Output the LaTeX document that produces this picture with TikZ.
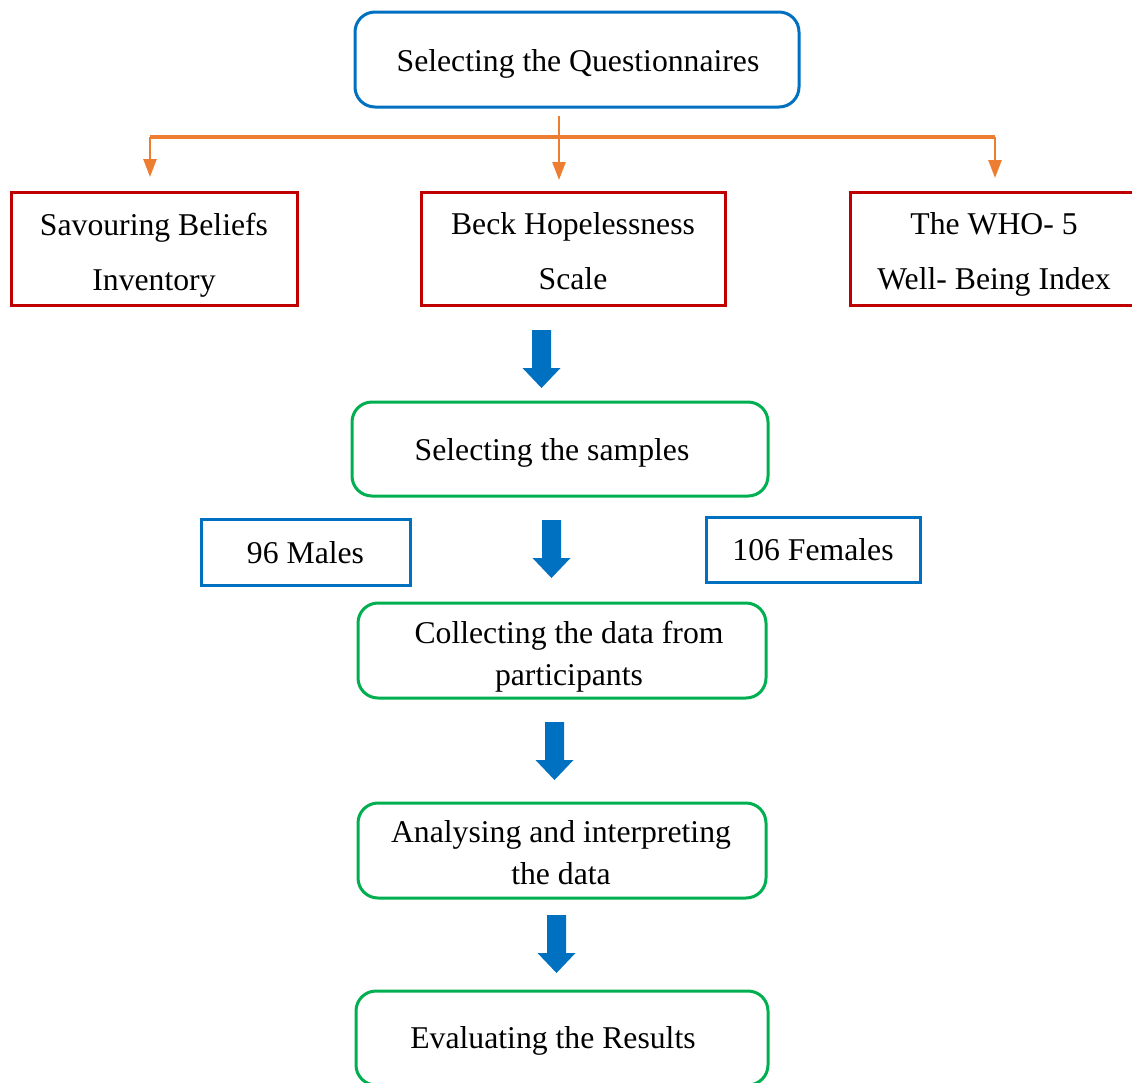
\documentclass[tikz,border=0pt]{standalone}
\usepackage{fontspec}
\setmainfont{Liberation Serif}
\usetikzlibrary{arrows.meta,calc}
\definecolor{tblue}{HTML}{0070C0}
\definecolor{tred}{HTML}{C00000}
\definecolor{tgreen}{HTML}{00B050}
\definecolor{torange}{HTML}{ED7D31}
\tikzset{
  txt/.style={font=\fontsize{31.7}{42}\selectfont, align=center, inner sep=0pt},
  roundbox/.style={draw, line width=3pt, rounded corners=20pt, inner sep=0pt},
  bluebox/.style={roundbox, draw=tblue},
  greenbox/.style={roundbox, draw=tgreen},
  redbox/.style={draw=tred, line width=3pt, inner sep=0pt},
  smallbox/.style={draw=tblue, line width=3pt, inner sep=0pt},
  orangeline/.style={draw=torange, line width=4pt},
  orangearrow/.style={draw=torange, line width=2.5pt, -{Triangle[width=13pt,length=18pt]}},
}
\newcommand{\blockarrowat}[2]{%
  \fill[tblue] (#1-9.5,#2) -- (#1+9.5,#2) -- (#1+9.5,#2+38) -- (#1+19,#2+38)
     -- (#1,#2+58) -- (#1-19,#2+38) -- (#1-9.5,#2+38) -- cycle;}
\begin{document}
\begin{tikzpicture}[x=1pt,y=-1pt]
\useasboundingbox (0,0) rectangle (1132,1082);
\clip (0,0) rectangle (1132,1082);
\fill[white] (0,0) rectangle (1132,1082);

% top box
\node[bluebox, minimum width=444pt, minimum height=95pt] (top) at (577,59.5) {};
\node[txt] (toptxt) at (578,64) {Selecting the Questionnaires};

% red boxes
\node[redbox, minimum width=286pt, minimum height=113pt] (sbi) at (154,248.5) {};
\node[txt, font=\fontsize{31.7}{55}\selectfont] at (154,255) {Savouring Beliefs\\Inventory};
\node[redbox, minimum width=304pt, minimum height=113pt] (bhs) at (573,248.5) {};
\node[txt, font=\fontsize{31.7}{55}\selectfont] at (573,251.5) {Beck Hopelessness\\Scale};
\node[redbox, minimum width=290pt, minimum height=113pt] (who) at (995,248.5) {};
\node[txt, font=\fontsize{31.7}{55}\selectfont] at (994,254.5) {The WHO- 5\\Well- Being Index};

% orange connectors
\coordinate (o0) at (559,116);
\coordinate (oj) at (559,137);
\coordinate (ol) at (150,137);
\coordinate (or) at (995,137);
\coordinate (tl) at (150,177);
\coordinate (tm) at (559,180);
\coordinate (tr) at (995,178);
\draw[draw=torange, line width=2.5pt] (o0) -- (oj);
\draw[orangeline] (ol) -- (or);
\draw[orangearrow] (ol) -- (tl);
\draw[orangearrow] (oj) -- (tm);
\draw[orangearrow] (or) -- (tr);

% block arrow 1
\blockarrowat{541.5}{330}

% selecting samples
\node[greenbox, minimum width=416pt, minimum height=94pt] (samp) at (560,449) {};
\node[txt] at (552,453) {Selecting the samples};

% males / females
\node[smallbox, minimum width=209pt, minimum height=66pt] (males) at (305.5,552) {};
\node[txt] at (305.5,553) {96 Males};
\node[smallbox, minimum width=214pt, minimum height=65pt] (fem) at (813,549.5) {};
\node[txt] at (813,550) {106 Females};

\blockarrowat{551.5}{520}

% collecting
\node[greenbox, minimum width=408pt, minimum height=95pt] (coll) at (562,650.5) {};
\node[txt] at (569,657) {Collecting the data from\\participants};

\blockarrowat{554.5}{722}

% analysing
\node[greenbox, minimum width=408pt, minimum height=95pt] (anal) at (562,850.5) {};
\node[txt] at (561,853) {Analysing and interpreting\\the data};

\blockarrowat{556.5}{915}

% evaluating
\node[greenbox, minimum width=412pt, minimum height=94pt] (eval) at (562,1038) {};
\node[txt] at (553,1041) {Evaluating the Results};
\end{tikzpicture}
\end{document}
